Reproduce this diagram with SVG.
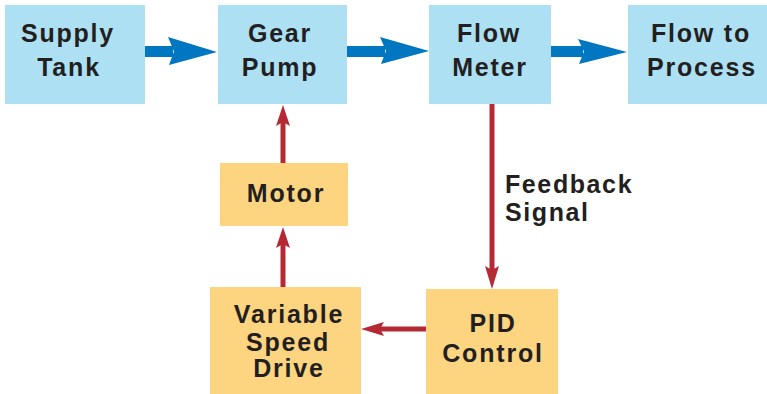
<svg xmlns="http://www.w3.org/2000/svg" width="767" height="394" viewBox="0 0 767 394">
<style>
.blue{fill:#aee0f3}
.orange{fill:#fdd580}
.t{font-family:"Liberation Sans",Arial,sans-serif;font-weight:bold;font-size:25px;letter-spacing:1.8px;fill:#231f20;text-anchor:middle}
.tl{font-family:"Liberation Sans",Arial,sans-serif;font-weight:bold;font-size:25px;letter-spacing:1.6px;fill:#231f20}
.ba{fill:#0077c0}
.rl{stroke:#b52934;stroke-width:5;fill:none}
.rh{fill:#b52934}
</style>
<rect width="767" height="394" fill="#ffffff"/>
<g id="supply-tank">
<rect class="blue" x="5" y="5" width="140" height="99"/>
<text class="t" x="68" y="42">Supply</text>
<text class="t" x="69" y="76">Tank</text>
</g>
<g id="gear-pump">
<rect class="blue" x="218" y="5" width="129" height="99"/>
<text class="t" x="280" y="42">Gear</text>
<text class="t" x="280" y="76">Pump</text>
</g>
<g id="flow-meter">
<rect class="blue" x="429" y="5" width="122" height="99"/>
<text class="t" x="489" y="42">Flow</text>
<text class="t" x="490" y="76">Meter</text>
</g>
<g id="flow-to-process">
<rect class="blue" x="628" y="5" width="139" height="99"/>
<text class="t" x="701" y="42">Flow  to</text>
<text class="t" x="702" y="76">Process</text>
</g>
<g id="motor">
<rect class="orange" x="220" y="163" width="128" height="63"/>
<text class="t" x="286" y="202">Motor</text>
</g>
<g id="variable-speed-drive">
<rect class="orange" x="210" y="287" width="151" height="107"/>
<text class="t" x="289" y="323">Variable</text>
<text class="t" x="288" y="351">Speed</text>
<text class="t" x="289" y="377">Drive</text>
</g>
<g id="pid-control">
<rect class="orange" x="426" y="289" width="132" height="105"/>
<text class="t" x="493" y="332">PID</text>
<text class="t" x="493" y="362">Control</text>
</g>
<g id="connectors">
<rect class="ba" x="145" y="46" width="28" height="11"/>
<polygon class="ba" points="168,37 217,52 169,65 174,51.5"/>
<rect class="ba" x="347" y="46" width="38" height="11"/>
<polygon class="ba" points="380,37 429,51 381,64 386,51"/>
<rect class="ba" x="551" y="46" width="32" height="11"/>
<polygon class="ba" points="578,39 627,52 579,64 584,51.5"/>
<line class="rl" x1="283" y1="163" x2="283" y2="120"/>
<polygon class="rh" points="283,105 290,126 283,122 276,126"/>
<line class="rl" x1="283" y1="287" x2="283" y2="242"/>
<polygon class="rh" points="283,227 290,248 283,244 276,248"/>
<line class="rl" x1="492" y1="104" x2="492" y2="272"/>
<polygon class="rh" points="492,289 499,266 492,270 485,266"/>
<line class="rl" x1="426" y1="329" x2="377" y2="329"/>
<polygon class="rh" points="361,329 384,322 380,329 384,336"/>
<text class="tl" x="505" y="193">Feedback</text>
<text class="tl" x="505" y="221">Signal</text>
</g>
</svg>
